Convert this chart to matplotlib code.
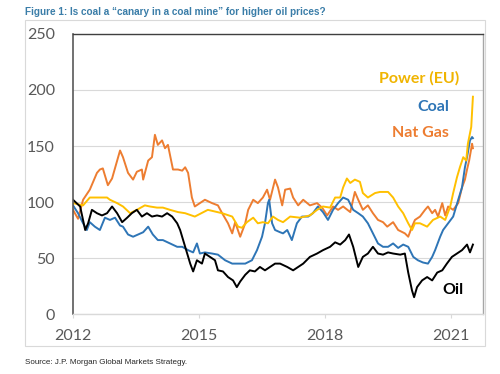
import matplotlib
matplotlib.use("Agg")
import matplotlib.pyplot as plt
from matplotlib.patches import Rectangle

# values (decimal year, index level)
gas_t = [2012.00, 2012.12, 2012.24, 2012.40, 2012.57, 2012.64, 2012.71, 2012.83, 2012.93, 2013.12,
         2013.19, 2013.31, 2013.43, 2013.52, 2013.64, 2013.67, 2013.79, 2013.88, 2013.95, 2014.02,
         2014.12, 2014.19, 2014.26, 2014.38, 2014.50, 2014.60, 2014.67, 2014.74, 2014.83, 2014.90,
         2015.02, 2015.14, 2015.31, 2015.45, 2015.55, 2015.69, 2015.79, 2015.86, 2015.98, 2016.10,
         2016.17, 2016.29, 2016.40, 2016.52, 2016.62, 2016.69, 2016.81, 2016.88, 2016.98, 2017.05,
         2017.17, 2017.24, 2017.36, 2017.48, 2017.64, 2017.81, 2017.93, 2018.05, 2018.19, 2018.31,
         2018.43, 2018.60, 2018.71, 2018.79, 2018.90, 2019.02, 2019.14, 2019.26, 2019.38, 2019.48,
         2019.62, 2019.74, 2019.90, 2019.98, 2020.07, 2020.14, 2020.26, 2020.38, 2020.45, 2020.55,
         2020.62, 2020.69, 2020.79, 2020.86, 2020.93, 2021.05, 2021.17, 2021.26, 2021.33, 2021.38,
         2021.43, 2021.50, 2021.52]
gas_v = [93, 85, 102, 111, 126, 129, 130, 115, 121, 146,
         140, 126, 120, 127, 129, 120, 137, 140, 160, 151,
         155, 148, 151, 129, 129, 128, 131, 126, 104, 96,
         99, 102, 99, 97, 90, 81, 72, 82, 69, 81,
         93, 102, 99, 104, 111, 102, 120, 113, 97, 111,
         112, 104, 97, 102, 97, 99, 95, 88, 96, 93,
         96, 91, 109, 102, 93, 97, 90, 84, 82, 78,
         82, 75, 72, 69, 78, 84, 87, 93, 96, 90,
         93, 87, 99, 88, 96, 93, 99, 113, 120, 129,
         137, 152, 148]

coal_t = [2012.00, 2012.12, 2012.24, 2012.33, 2012.40, 2012.52, 2012.64, 2012.76, 2012.88, 2013.00,
          2013.12, 2013.19, 2013.31, 2013.43, 2013.55, 2013.67, 2013.79, 2013.90, 2014.02, 2014.14,
          2014.31, 2014.48, 2014.60, 2014.74, 2014.86, 2014.95, 2015.02, 2015.14, 2015.31, 2015.45,
          2015.62, 2015.79, 2015.93, 2016.10, 2016.26, 2016.38, 2016.50, 2016.57, 2016.64, 2016.67,
          2016.74, 2016.81, 2016.93, 2017.00, 2017.10, 2017.21, 2017.33, 2017.45, 2017.60, 2017.71,
          2017.83, 2017.95, 2018.07, 2018.19, 2018.31, 2018.43, 2018.55, 2018.67, 2018.79, 2018.90,
          2019.02, 2019.14, 2019.26, 2019.38, 2019.50, 2019.62, 2019.74, 2019.86, 2019.98, 2020.10,
          2020.21, 2020.33, 2020.45, 2020.55, 2020.62, 2020.74, 2020.81, 2020.93, 2021.05, 2021.17,
          2021.26, 2021.33, 2021.38, 2021.45, 2021.50, 2021.52]
coal_v = [97, 90, 81, 75, 82, 78, 75, 86, 84, 86,
          79, 78, 71, 69, 71, 73, 78, 71, 66, 66,
          63, 60, 60, 57, 55, 63, 54, 55, 54, 53,
          48, 45, 45, 45, 48, 57, 69, 81, 99, 102,
          81, 75, 73, 72, 75, 66, 81, 87, 87, 90,
          96, 91, 84, 93, 99, 104, 102, 93, 90, 87,
          81, 72, 63, 60, 60, 63, 59, 62, 60, 51,
          48, 46, 45, 51, 57, 69, 75, 81, 87, 102,
          113, 131, 140, 155, 158, 157]

power_t = [2012.00, 2012.24, 2012.40, 2012.60, 2012.81, 2012.88, 2013.05, 2013.19, 2013.36, 2013.52,
           2013.71, 2013.83, 2014.00, 2014.14, 2014.31, 2014.50, 2014.67, 2014.90, 2015.21, 2015.55,
           2015.79, 2015.93, 2016.02, 2016.14, 2016.29, 2016.40, 2016.52, 2016.64, 2016.76, 2016.88,
           2017.00, 2017.17, 2017.40, 2017.64, 2017.81, 2017.95, 2018.12, 2018.24, 2018.36, 2018.43,
           2018.52, 2018.60, 2018.71, 2018.83, 2018.90, 2019.02, 2019.19, 2019.31, 2019.50, 2019.62,
           2019.74, 2019.86, 2019.98, 2020.07, 2020.14, 2020.26, 2020.43, 2020.57, 2020.74, 2020.86,
           2020.98, 2021.05, 2021.14, 2021.21, 2021.29, 2021.36, 2021.40, 2021.48, 2021.52]
power_v = [99, 97, 104, 104, 104, 102, 99, 96, 90, 93,
           97, 96, 95, 95, 93, 91, 90, 87, 93, 90,
           87, 78, 77, 82, 86, 81, 82, 81, 87, 84,
           82, 87, 86, 88, 93, 96, 95, 104, 104, 113,
           121, 117, 120, 118, 108, 104, 108, 109, 109, 104,
           96, 90, 81, 75, 81, 81, 78, 84, 87, 84,
           96, 108, 122, 131, 140, 137, 152, 167, 194]

oil_t = [2012.00, 2012.17, 2012.29, 2012.36, 2012.45, 2012.57, 2012.69, 2012.81, 2012.93, 2013.05,
         2013.17, 2013.29, 2013.40, 2013.52, 2013.64, 2013.76, 2013.88, 2014.00, 2014.12, 2014.24,
         2014.36, 2014.48, 2014.55, 2014.67, 2014.79, 2014.86, 2014.95, 2015.07, 2015.14, 2015.26,
         2015.38, 2015.45, 2015.57, 2015.69, 2015.81, 2015.90, 2015.98, 2016.10, 2016.21, 2016.33,
         2016.45, 2016.57, 2016.69, 2016.81, 2016.93, 2017.10, 2017.24, 2017.36, 2017.48, 2017.64,
         2017.81, 2017.95, 2018.12, 2018.24, 2018.36, 2018.48, 2018.57, 2018.67, 2018.79, 2018.90,
         2019.02, 2019.14, 2019.26, 2019.38, 2019.50, 2019.62, 2019.79, 2019.90, 2019.98, 2020.07,
         2020.12, 2020.19, 2020.31, 2020.43, 2020.55, 2020.67, 2020.79, 2020.90, 2021.02, 2021.14,
         2021.26, 2021.38, 2021.45, 2021.52]
oil_v = [102, 96, 75, 81, 93, 90, 88, 90, 96, 90,
         82, 86, 90, 93, 87, 90, 87, 88, 87, 90,
         87, 81, 75, 60, 45, 38, 48, 45, 54, 51,
         48, 39, 38, 33, 30, 24, 29, 35, 39, 38,
         42, 39, 42, 45, 45, 42, 39, 42, 45, 51,
         54, 57, 60, 64, 62, 66, 71, 60, 42, 51,
         54, 60, 54, 53, 55, 54, 53, 54, 37, 21,
         15, 24, 30, 33, 30, 37, 39, 45, 51, 54,
         57, 62, 55, 62]

series = [
    ("Nat Gas", gas_t, gas_v, "#ED7D31"),
    ("Coal", coal_t, coal_v, "#2E75B6"),
    ("Power (EU)", power_t, power_v, "#FFC000"),
    ("Oil", oil_t, oil_v, "#000000"),
]
year_ticks = [2012, 2015, 2018, 2021]
y_ticks = [0, 50, 100, 150, 200, 250]

fig = plt.figure(figsize=(5.0, 3.74), dpi=100)
ax = fig.add_axes([0.146, 0.1604, 0.82, 0.7487])

for name, t, v, col in series:
    ax.plot(t, v, color=col, lw=1.4, solid_joinstyle="round")

ax.set_xlim(2012, 2021.76)
ax.set_ylim(0, 250)
ax.set_yticks(y_ticks)
ax.set_xticks(year_ticks)
ax.grid(axis="y", color="#D9D9D9", lw=0.8)
ax.set_axisbelow(True)

ax.tick_params(axis="y", length=0, pad=13, labelcolor="#595959")
ax.tick_params(axis="x", length=3, color="#D9D9D9", pad=8, labelcolor="#595959")
for lab in ax.get_xticklabels() + ax.get_yticklabels():
    lab.set_fontfamily("Lato")
    lab.set_fontsize(11.5)

ax.spines["left"].set_color("#595959")
ax.spines["left"].set_linewidth(1.2)
ax.spines["top"].set_color("#404040")
ax.spines["top"].set_linewidth(1.0)
ax.spines["right"].set_color("#A6A6A6")
ax.spines["right"].set_linewidth(1.0)
ax.spines["bottom"].set_color("#D9D9D9")
ax.spines["bottom"].set_linewidth(1.0)

# series labels
lab_font = dict(family="Lato", weight="bold", size=11.5)
ax.text(2021.19, 210, "Power (EU)", color="#F0B400", ha="right", va="center", **lab_font)
ax.text(2020.95, 185, "Coal", color="#2E75B6", ha="right", va="center", **lab_font)
ax.text(2020.95, 162, "Nat Gas", color="#ED7D31", ha="right", va="center", **lab_font)
ax.text(2020.79, 21.4, "Oil", color="#000000", ha="left", va="center", **lab_font)

# outer frame around the chart
fig.patches.append(Rectangle((25 / 500, 1 - 346 / 374), 460 / 500, 326 / 374,
                             transform=fig.transFigure, fill=False,
                             edgecolor="#D9D9D9", lw=0.8))

fig.text(25 / 500, 1 - 12 / 374,
         "Figure 1: Is coal a \u201ccanary in a coal mine\u201d for higher oil prices?",
         family="Liberation Sans", weight="bold",
         size=7.2, color="#3A7DA8", ha="left", va="center")
fig.text(25 / 500, 1 - 362 / 374, "Source: J.P. Morgan Global Markets Strategy.",
         family="Liberation Sans", size=5.8,
         color="#262626", ha="left", va="center")

fig.savefig("out.png", dpi=100)
